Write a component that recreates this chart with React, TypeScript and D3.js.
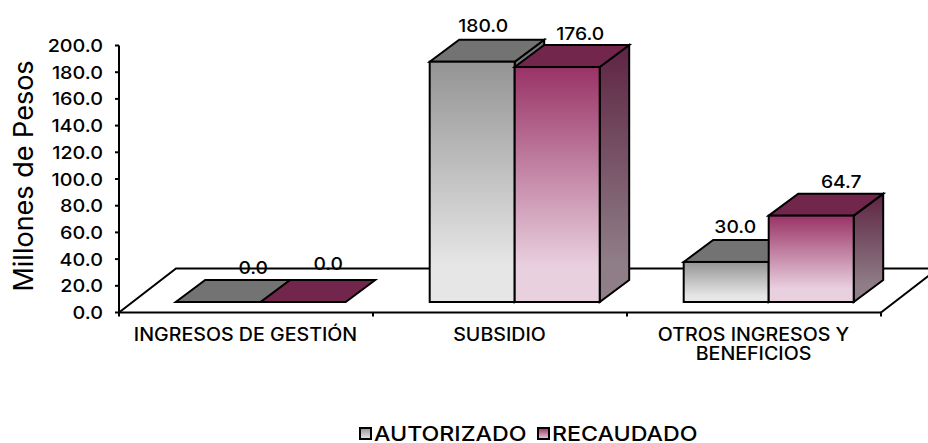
import React from "react";
import * as d3 from "d3";

const categories = [["INGRESOS DE GESTIÓN"], ["SUBSIDIO"], ["OTROS INGRESOS Y", "BENEFICIOS"]];
const autorizado = [0, 180, 30];
const recaudado = [0, 176, 64.7];
const seriesNames = ["AUTORIZADO", "RECAUDADO"];
const yTicks = [0, 20, 40, 60, 80, 100, 120, 140, 160, 180, 200];
const axisTitle = "Millones de Pesos";

const FONT = "Inter, 'Noto Sans', sans-serif";
const W = 928, H = 443;
const y0 = 312.5, yTop = 45.5, xLeft = 119, xRight = 881;
const floorDx = 57, floorDy = -44;
const depthX = 29.5, depthY = -22;
const barW = 85;
const barBase = 302;

const y = d3.scaleLinear().domain([0, 200]).range([y0, yTop]);
const x = d3.scaleBand<number>().domain([0, 1, 2]).range([xLeft, xRight]).padding(0);
const h = (v: number) => y0 - y(v);

const palettes = [
  { id: "g", top: "#737373", front: ["#949494", "#e6e6e6"], side: ["#737373", "#8c8c8c"] },
  { id: "p", top: "#72264c", front: ["#993366", "#e9d0df"], side: ["#5e2443", "#8f7e87"] },
];
// label nudges relative to the bar's front-top centre
const labelNudge = [
  [[35, -28], [11, -30], [9, -29]],
  [[25, -32], [23, -27], [30, -27.5]],
];

const path = (pts: number[][]) => d3.line()(pts as [number, number][]) + "Z";

// Text stretched horizontally to approximate the wide geometric face of the original
function Wide({ x: tx, y: ty, sx, anchor, size, weight = 500, children }: any) {
  return (
    <text
      transform={`translate(${tx},${ty}) scale(${sx},1)`}
      textAnchor={anchor}
      fontSize={size}
      fontWeight={weight}
      fontFamily={FONT}
      fill="#000"
    >
      {children}
    </text>
  );
}

function Bar({ cat, s, v }: { cat: number; s: number; v: number }) {
  const p = palettes[s];
  const x0 = x(cat)! + 56.7 + s * barW;
  const x1 = x0 + barW;
  const t = barBase - h(v);
  const st = { stroke: "#000", strokeWidth: 2, strokeLinejoin: "miter" as const };
  return (
    <g>
      {v > 0 && (
        <path
          d={path([[x1, t], [x1 + depthX, t + depthY], [x1 + depthX, barBase + depthY], [x1, barBase]])}
          fill={`url(#${p.id}s${cat})`}
          {...st}
        />
      )}
      <path
        d={path([[x0, t], [x0 + depthX, t + depthY], [x1 + depthX, t + depthY], [x1, t]])}
        fill={p.top}
        {...st}
      />
      {v > 0 && <rect x={x0} y={t} width={barW} height={barBase - t} fill={`url(#${p.id}f${cat})`} {...st} />}
      <Wide x={x0 + barW / 2 + labelNudge[s][cat][0]} y={t + labelNudge[s][cat][1]} sx={1.1} anchor="middle" size={17.5}>
        {v.toFixed(1)}
      </Wide>
    </g>
  );
}

export default function App() {
  const series = [autorizado, recaudado];
  return (
    <svg width={W} height={H} style={{ position: "absolute", left: 0, top: 0, background: "#fff" }}>
      <defs>
        {palettes.map((p) =>
          [0, 1, 2].map((c) => (
            <React.Fragment key={p.id + c}>
              <linearGradient id={`${p.id}f${c}`} x1="0" y1="0" x2="0" y2="1">
                <stop offset="0" stopColor={p.front[0]} />
                <stop offset="0.85" stopColor={p.front[1]} />
                <stop offset="1" stopColor={p.front[1]} />
              </linearGradient>
              <linearGradient id={`${p.id}s${c}`} x1="0" y1="0" x2="0" y2="1">
                <stop offset="0" stopColor={p.side[0]} />
                <stop offset="0.85" stopColor={p.side[1]} />
                <stop offset="1" stopColor={p.side[1]} />
              </linearGradient>
            </React.Fragment>
          ))
        )}
        <linearGradient id="lg" x1="0" y1="0" x2="0" y2="1">
          <stop offset="0" stopColor={palettes[0].front[0]} />
          <stop offset="1" stopColor={palettes[0].front[1]} />
        </linearGradient>
        <linearGradient id="lp" x1="0" y1="0" x2="0" y2="1">
          <stop offset="0" stopColor={palettes[1].front[0]} />
          <stop offset="1" stopColor={palettes[1].front[1]} />
        </linearGradient>
      </defs>

      {/* floor */}
      <g stroke="#000" strokeWidth={2} fill="none">
        <path d={`M${xLeft},${y0}L${xLeft + floorDx},${y0 + floorDy}L${W + 5},${y0 + floorDy}`} />
        <path d={`M${xRight},${y0}L${xRight + floorDx},${y0 + floorDy}`} />
        <path d={`M${xLeft},${yTop}V${y0}H${xRight}`} />
        {yTicks.map((t) => (
          <line key={t} x1={xLeft - 4} x2={xLeft} y1={y(t)} y2={y(t)} />
        ))}
        {[0, 1, 2, 3].map((i) => (
          <line key={i} x1={xLeft + i * x.bandwidth()} x2={xLeft + i * x.bandwidth()} y1={y0} y2={y0 + 4} />
        ))}
      </g>

      {yTicks.map((t) => (
        <Wide key={t} x={103} y={y(t) + 6.5} sx={1.13} anchor="end" size={17.5}>
          {t.toFixed(1)}
        </Wide>
      ))}

      <text
        transform="translate(33,176) rotate(-90)"
        textAnchor="middle"
        fontSize={27}
        fontWeight={400}
        fontFamily={FONT}
        fill="#000"
      >
        {axisTitle}
      </text>

      {[0, 1, 2].map((c) =>
        series.map((vals, s) => <Bar key={`${c}-${s}`} cat={c} s={s} v={vals[c]} />)
      )}

      {categories.map((lines, c) =>
        lines.map((l, i) => (
          <Wide key={l} x={x(c)! + x.bandwidth() / 2 - 0.5} y={341 + i * 19} sx={1.09} anchor="middle" size={18}>
            {l}
          </Wide>
        ))
      )}

      {/* legend */}
      {seriesNames.map((n, i) => {
        const sx = i === 0 ? 360 : 538;
        return (
          <g key={n}>
            <rect x={sx} y={428} width={11} height={11} fill={i === 0 ? "url(#lg)" : "url(#lp)"} stroke="#000" strokeWidth={2} />
            <Wide x={sx + 14} y={441} sx={1.16} anchor="start" size={20}>
              {n}
            </Wide>
          </g>
        );
      })}
    </svg>
  );
}
